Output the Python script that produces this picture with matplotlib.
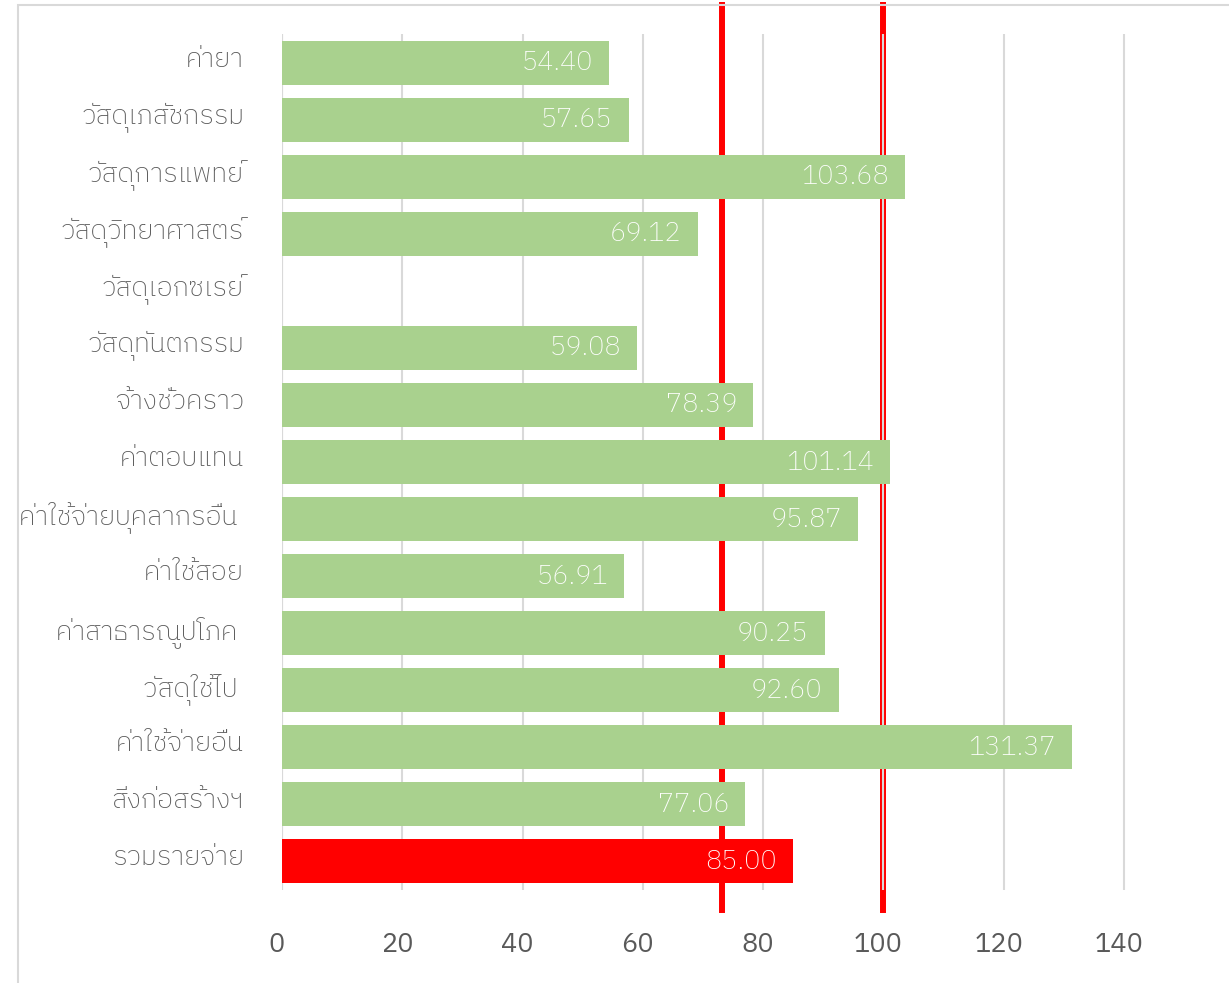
import matplotlib
matplotlib.use('Agg')
import matplotlib.pyplot as plt
from matplotlib import font_manager
from matplotlib.ft2font import FT2Font
from matplotlib.patches import Rectangle
from matplotlib.transforms import offset_copy

# ---- data ----
categories = ['ค่ายา', 'วัสดุเภสัชกรรม', 'วัสดุการแพทย์', 'วัสดุวิทยาศาสตร์',
              'วัสดุเอกซเรย์', 'วัสดุทันตกรรม', 'จ้างชั่วคราว', 'ค่าตอบแทน',
              'ค่าใช้จ่ายบุคลากรอื่น ', 'ค่าใช้สอย', 'ค่าสาธารณูปโภค ', 'วัสดุใช้ไป ',
              'ค่าใช้จ่ายอื่น', 'สิ่งก่อสร้างฯ', 'รวมรายจ่าย']
values = [54.40, 57.65, 103.68, 69.12, None, 59.08, 78.39, 101.14,
          95.87, 56.91, 90.25, 92.60, 131.37, 77.06, 85.00]
ref_lines = [73.1, 100.0]
xticks = [0, 20, 40, 60, 80, 100, 120, 140]

# find a font that has Thai glyphs
thai_font = None
for f in font_manager.fontManager.ttflist:
    try:
        if ord('ก') in FT2Font(f.fname).get_charmap():
            thai_font = f.name
            if 'Sans' in f.name:
                break
    except Exception:
        pass
fams = ([thai_font] if thai_font else []) + ['DejaVu Sans']
plt.rcParams['font.family'] = fams

GREEN = '#a9d18e'
RED = '#ff0000'
GRID = '#d9d9d9'
TXT = '#595959'

fig = plt.figure(figsize=(12.29, 9.83), dpi=100)
ax = fig.add_axes([282 / 1229, 1 - 890 / 983, (1190 - 282) / 1229, (890 - 34) / 983])

n = len(categories)
ys = list(range(n))
for y, v in zip(ys, values):
    if v is None:
        continue
    col = RED if y == n - 1 else GREEN
    ax.barh(y, v, height=0.77, color=col, zorder=2)
    ax.text(v - 2.7, y, f'{v:.2f}', color='white', ha='right', va='center',
            fontsize=19.5, fontweight='light', zorder=4)

ax.set_ylim(n - 0.5, -0.5)
ax.set_xlim(0, 151)
ax.set_xticks(xticks)
ax.set_yticks(ys)
ax.set_yticklabels(categories, fontweight='light')
ax.tick_params(axis='both', length=0, colors=TXT, labelsize=19.5)
ax.tick_params(axis='y', pad=36)
ax.tick_params(axis='x', pad=30)
# nudge the Thai labels up a bit
for lab in ax.get_yticklabels():
    lab.set_transform(offset_copy(lab.get_transform(), fig=fig, x=12, y=6, units='dots'))
for lab in ax.get_xticklabels():
    lab.set_transform(offset_copy(lab.get_transform(), fig=fig, x=-5, y=0, units='dots'))
ax.grid(axis='x', color=GRID, lw=1.5, zorder=0)
for s in ax.spines.values():
    s.set_visible(False)
ax.axvline(0, color=GRID, lw=1.5, zorder=1)

# red reference lines run past the plot area, behind the bars
for xv in ref_lines:
    ax.axvline(xv, ymin=-0.023, ymax=1.034, color=RED, lw=4.3, zorder=1.5, clip_on=False)

# chart border
fig.patches.append(Rectangle((18 / 1229, -0.01), 1.1, 1 - 5 / 983 + 0.01,
                             transform=fig.transFigure, fill=False,
                             edgecolor=GRID, lw=1.5))

fig.savefig('out.png', dpi=100)
